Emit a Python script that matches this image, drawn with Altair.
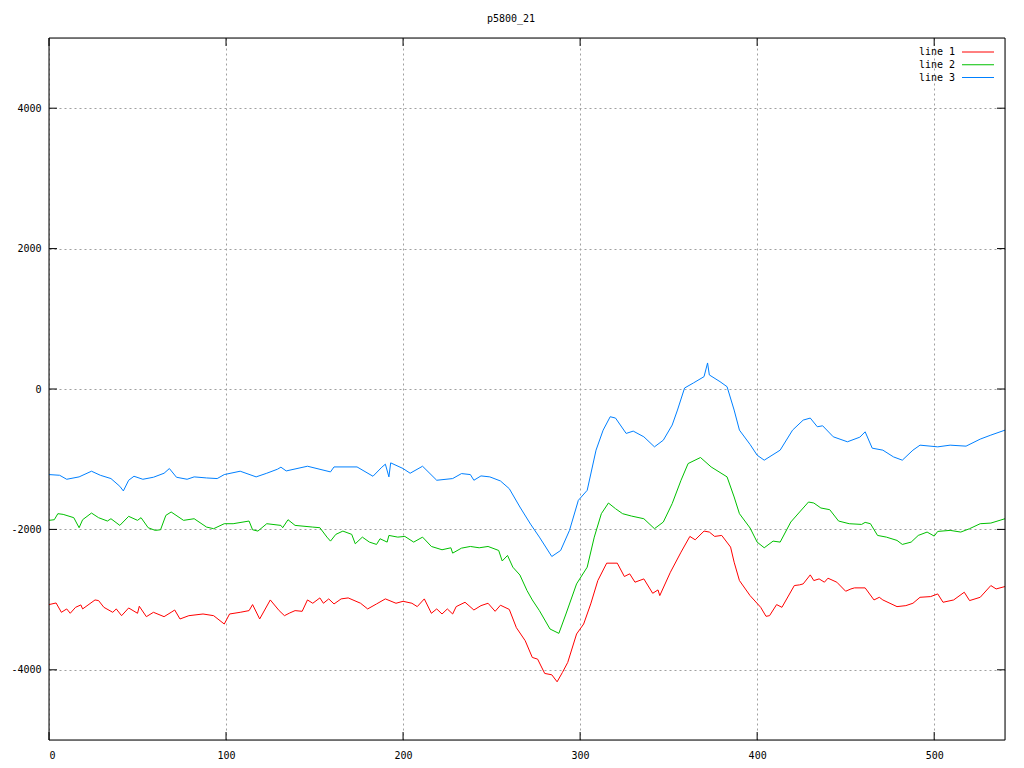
import altair as alt
import pandas as pd

title_text = "p5800_21"
series_names = ["line 1", "line 2", "line 3"]
series_colors = ["#ff0000", "#00c000", "#0080ff"]

line1 = [(0,-3071),(4,-3048),(7,-3181),(10,-3133),(12,-3195),(15,-3110),(18,-3076),(19,-3133),(26,-3005),(28,-3014),
(31,-3110),(36,-3181),(38,-3133),(41,-3229),(45,-3119),(50,-3195),(51,-3095),(55,-3243),(59,-3181),(65,-3243),
(69,-3181),(71,-3148),(74,-3276),(79,-3229),(87,-3205),(93,-3229),(99,-3348),(102,-3205),(108,-3181),(113,-3157),
(115,-3071),(119,-3276),(125,-3005),(130,-3157),(133,-3229),(136,-3190),(139,-3157),(143,-3167),(146,-3005),(149,-3052),
(153,-2976),(155,-3052),(158,-2990),(161,-3062),(165,-2990),(169,-2976),(176,-3052),(180,-3133),(185,-3062),(190,-2990),
(196,-3052),(200,-3024),(205,-3052),(208,-3100),(212,-2990),(216,-3195),(219,-3133),(222,-3205),(225,-3133),(228,-3205),
(230,-3100),(235,-3038),(240,-3148),(244,-3086),(248,-3052),(252,-3167),(255,-3080),(260,-3140),(264,-3400),(269,-3586),
(273,-3824),(276,-3848),(280,-4052),(284,-4071),(287,-4171),(290,-4038),(293,-3895),(298,-3490),(302,-3348),(306,-3062),
(310,-2729),(315,-2481),(321,-2481),(325,-2671),(328,-2633),(331,-2752),(336,-2705),(341,-2910),(344,-2862),(345,-2943),
(351,-2610),(357,-2324),(362,-2100),(365,-2148),(370,-2024),(373,-2038),(376,-2100),(380,-2086),(385,-2252),(387,-2467),
(390,-2729),(396,-2943),(402,-3110),(405,-3238),(407,-3229),(411,-3071),(414,-3110),(421,-2800),(424,-2790),(426,-2776),
(430,-2648),(432,-2729),(435,-2705),(438,-2752),(440,-2695),(445,-2752),(450,-2881),(453,-2848),(455,-2833),(461,-2833),
(466,-3005),(469,-2967),(471,-3005),(479,-3100),(484,-3086),(488,-3052),(492,-2967),(498,-2957),(502,-2919),(505,-3038),
(511,-3005),(517,-2895),(520,-3014),(526,-2967),(532,-2800),(535,-2848),(540,-2814)]

line2 = [(0,-1871),(3,-1862),(5,-1776),(8,-1786),(14,-1833),(17,-1976),(19,-1862),(24,-1767),(28,-1833),(33,-1881),
(35,-1848),(40,-1943),(45,-1814),(50,-1871),(52,-1833),(56,-1976),(60,-2014),(63,-2005),(66,-1800),(69,-1752),
(76,-1871),(82,-1848),(89,-1967),(93,-1990),(99,-1919),(104,-1919),(113,-1881),(115,-2005),(118,-2024),(123,-1919),
(131,-1943),(132,-1976),(135,-1862),(139,-1943),(149,-1967),(153,-1976),(157,-2110),(159,-2167),(162,-2071),(166,-2024),
(171,-2071),(173,-2205),(177,-2110),(181,-2181),(185,-2214),(187,-2133),(191,-2181),(192,-2086),(197,-2110),(201,-2100),
(206,-2181),(211,-2110),(216,-2243),(222,-2290),(227,-2262),(228,-2338),(233,-2267),(238,-2243),(243,-2262),(248,-2243),
(254,-2300),(256,-2450),(259,-2371),(262,-2538),(266,-2650),(270,-2871),(273,-3005),(277,-3157),(283,-3419),(288,-3481),
(292,-3205),(298,-2776),(304,-2538),(308,-2110),(312,-1776),(316,-1624),(320,-1705),(324,-1776),(329,-1810),(336,-1848),
(342,-1990),(347,-1895),(352,-1633),(357,-1300),(361,-1062),(368,-976),(374,-1110),(383,-1252),(387,-1538),(390,-1776),
(396,-1980),(400,-2181),(404,-2262),(409,-2167),(413,-2181),(419,-1895),(424,-1752),(429,-1610),(432,-1624),(436,-1695),
(441,-1719),(446,-1881),(452,-1919),(459,-1929),(461,-1900),(464,-1919),(468,-2086),(473,-2110),(479,-2157),(482,-2214),
(487,-2181),(491,-2086),(496,-2038),(500,-2095),(502,-2029),(509,-2014),(515,-2038),(520,-1990),(526,-1919),(532,-1910),
(540,-1848)]

line3 = [(0,-1219),(6,-1229),(10,-1286),(17,-1252),(24,-1171),(29,-1229),(35,-1276),(40,-1386),(42,-1452),(45,-1300),
(48,-1243),(53,-1286),(59,-1257),(65,-1200),(68,-1133),(72,-1257),(78,-1286),(82,-1252),(89,-1267),(95,-1276),
(99,-1219),(108,-1171),(117,-1252),(123,-1200),(129,-1143),(131,-1114),(134,-1167),(146,-1100),(159,-1181),(161,-1110),
(174,-1110),(183,-1243),(188,-1114),(190,-1071),(192,-1252),(193,-1052),(200,-1133),(204,-1200),(211,-1100),(219,-1300),
(228,-1276),(233,-1205),(238,-1219),(240,-1300),(244,-1238),(249,-1252),(255,-1310),(260,-1420),(266,-1681),(272,-1925),
(277,-2110),(284,-2386),(289,-2300),(294,-2014),(299,-1586),(304,-1443),(309,-871),(313,-586),(317,-395),(320,-414),
(326,-633),(330,-600),(336,-681),(342,-824),(347,-729),(352,-514),(355,-300),(359,14),(364,86),(370,176),
(372,371),(373,200),(379,105),(383,33),(387,-300),(390,-586),(396,-790),(400,-943),(404,-1014),(413,-871),
(420,-586),(426,-443),(430,-414),(434,-538),(437,-524),(443,-681),(451,-752),(458,-686),(461,-610),(465,-843),
(471,-871),(477,-967),(482,-1014),(488,-871),(492,-800),(502,-824),(509,-800),(518,-814),(526,-714),(532,-657),
(540,-586)]

x_ticks = [0, 100, 200, 300, 400, 500]
y_ticks = [-4000, -2000, 0, 2000, 4000]
x_domain = [0, 540]
y_domain = [-5000, 5000]

rows = []
for name, pts in zip(series_names, [line1, line2, line3]):
    for xv, yv in pts:
        rows.append({"series": name, "x": xv, "y": yv})
df = pd.DataFrame(rows)

W, H = 956, 702
FONT = "DejaVu Sans Mono"
TICK = 8

xscale = alt.Scale(domain=x_domain, nice=False, zero=False)
yscale = alt.Scale(domain=y_domain, nice=False, zero=False)

axis_common = dict(title=None, ticks=False, domain=False, grid=True,
                   gridColor="#a0a0a0", gridDash=[2, 3], gridWidth=1,
                   labelFont=FONT, labelFontSize=10, labelColor="black",
                   labelExpr="'' + datum.value")
x_axis = alt.Axis(values=x_ticks, labelPadding=10, **axis_common)
y_axis = alt.Axis(values=y_ticks, labelPadding=8, **axis_common)

color = alt.Color("series:N", scale=alt.Scale(domain=series_names, range=series_colors), legend=None)

lines = alt.Chart(df).mark_line(strokeWidth=1).encode(
    x=alt.X("x:Q", scale=xscale, axis=x_axis),
    y=alt.Y("y:Q", scale=yscale, axis=y_axis),
    color=color,
)

xt = pd.DataFrame({"x": x_ticks})
yt = pd.DataFrame({"y": y_ticks})

tick_bottom = alt.Chart(xt).mark_rule(color="black", strokeWidth=1).encode(
    x=alt.X("x:Q", scale=xscale, axis=x_axis), y=alt.value(H), y2=alt.value(H - TICK))
tick_top = alt.Chart(xt).mark_rule(color="black", strokeWidth=1).encode(
    x=alt.X("x:Q", scale=xscale, axis=x_axis), y=alt.value(0), y2=alt.value(TICK))
tick_left = alt.Chart(yt).mark_rule(color="black", strokeWidth=1).encode(
    y=alt.Y("y:Q", scale=yscale, axis=y_axis), x=alt.value(0), x2=alt.value(TICK))
tick_right = alt.Chart(yt).mark_rule(color="black", strokeWidth=1).encode(
    y=alt.Y("y:Q", scale=yscale, axis=y_axis), x=alt.value(W), x2=alt.value(W - TICK))

frame = alt.Chart(pd.DataFrame({"k": [0]})).mark_rect(fill=None, fillOpacity=0, stroke="black", strokeWidth=1).encode(
    x=alt.value(0), x2=alt.value(W), y=alt.value(0), y2=alt.value(H))

main = alt.layer(lines, tick_bottom, tick_top, tick_left, tick_right)

leg = pd.DataFrame({"series": series_names})
leg_y = alt.Y("series:N", scale=alt.Scale(type="point", domain=series_names, range=[14, 39.5], padding=0), axis=None)
leg_text = alt.Chart(leg).mark_text(align="right", baseline="middle", font=FONT, fontSize=10, color="black").encode(
    x=alt.value(906), y=leg_y, text="series:N")
leg_line = alt.Chart(leg).mark_rule(strokeWidth=1).encode(
    x=alt.value(913), x2=alt.value(945), y=leg_y, color=color)
legend = alt.layer(leg_text, leg_line)

chart = alt.layer(main, legend, frame).resolve_scale(y="independent").properties(
    width=W, height=H,
    title=alt.TitleParams(title_text, font=FONT, fontSize=10, fontWeight="normal", color="black", dx=-16, offset=14),
    autosize=alt.AutoSizeParams(type="none"),
    padding={"left": 41, "top": 30, "right": 11, "bottom": 20},
).configure_view(stroke="black", strokeWidth=1).configure(background="white")

chart.save("out.html", embed_options={"renderer": "svg", "actions": False})
